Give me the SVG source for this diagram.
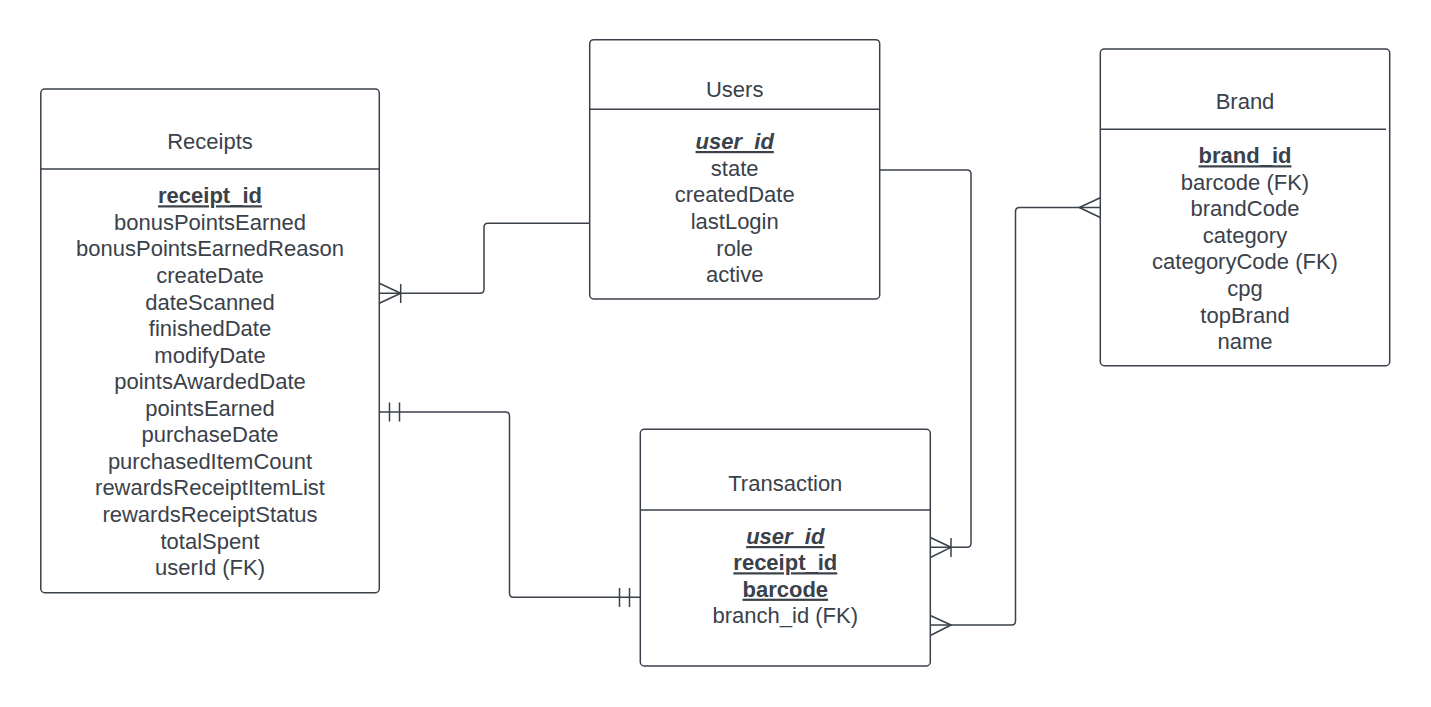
<svg xmlns="http://www.w3.org/2000/svg" width="1431" height="707" viewBox="0 0 1431 707">
<style>
  .box { fill: #ffffff; stroke: #3a414a; stroke-width: 1.5; }
  .sep { stroke: #3a414a; stroke-width: 1.5; }
  .t { font-family: "Liberation Sans", Arial, sans-serif; font-size: 22px; fill: #3a414a; text-anchor: middle; }
  .k { font-weight: bold; text-decoration: underline; }
  .ki { font-weight: bold; font-style: italic; text-decoration: underline; }
  .c { fill: none; stroke: #3a414a; stroke-width: 1.5; stroke-linejoin: round; }
</style>
<rect width="1431" height="707" fill="#ffffff"/>

<g id="connectors">
  <!-- Users -> Receipts (one or many at Receipts) -->
  <path class="c" d="M589.7,223.3 H488 Q484,223.3 484,227.3 V289.3 Q484,293.3 480,293.3 H379.3"/>
  <path class="c" d="M379.3,283.3 L400.7,293.3 L379.3,303.3 M400.7,284 V303"/>
  <!-- Receipts -> Transaction (one and only one both ends) -->
  <path class="c" d="M379.3,412 H505.5 Q509.5,412 509.5,416 V593.3 Q509.5,597.3 513.5,597.3 H640.3"/>
  <path class="c" d="M389.5,402.5 V421.5 M399.5,402.5 V421.5"/>
  <path class="c" d="M619.5,588 V607 M629.5,588 V607"/>
  <!-- Users -> Transaction (one or many at Transaction) -->
  <path class="c" d="M879.7,170 H967 Q971,170 971,174 V543.3 Q971,547.3 967,547.3 H930.3"/>
  <path class="c" d="M930.3,537.5 L951,547.3 L930.3,557.5 M951,538 V557"/>
  <!-- Brand -> Transaction (many both ends) -->
  <path class="c" d="M1100.3,207.5 H1019.5 Q1015.5,207.5 1015.5,211.5 V621 Q1015.5,625 1011.5,625 H930.3"/>
  <path class="c" d="M1100.3,197.7 L1079.3,207.5 L1100.3,217.5"/>
  <path class="c" d="M930.3,615.5 L951,625 L930.3,635.5"/>
</g>

<g id="receipts">
  <rect class="box" x="40.8" y="89" width="338.5" height="503.7" rx="4"/>
  <line class="sep" x1="40.8" y1="169" x2="379.3" y2="169"/>
  <text class="t" x="210" y="149">Receipts</text>
  <text class="t k" x="210" y="203.3">receipt_id</text>
  <text class="t" x="210" y="229.9">bonusPointsEarned</text>
  <text class="t" x="210" y="256.4">bonusPointsEarnedReason</text>
  <text class="t" x="210" y="283">createDate</text>
  <text class="t" x="210" y="309.5">dateScanned</text>
  <text class="t" x="210" y="336.1">finishedDate</text>
  <text class="t" x="210" y="362.6">modifyDate</text>
  <text class="t" x="210" y="389.2">pointsAwardedDate</text>
  <text class="t" x="210" y="415.7">pointsEarned</text>
  <text class="t" x="210" y="442.3">purchaseDate</text>
  <text class="t" x="210" y="468.8">purchasedItemCount</text>
  <text class="t" x="210" y="495.4">rewardsReceiptItemList</text>
  <text class="t" x="210" y="521.9">rewardsReceiptStatus</text>
  <text class="t" x="210" y="548.5">totalSpent</text>
  <text class="t" x="210" y="575">userId (FK)</text>
</g>

<g id="users">
  <rect class="box" x="589.7" y="39.7" width="290" height="259.3" rx="4"/>
  <line class="sep" x1="589.7" y1="109.3" x2="879.7" y2="109.3"/>
  <text class="t" x="734.7" y="96.7">Users</text>
  <text class="t ki" x="734.7" y="149">user_id</text>
  <text class="t" x="734.7" y="175.7">state</text>
  <text class="t" x="734.7" y="202.3">createdDate</text>
  <text class="t" x="734.7" y="229">lastLogin</text>
  <text class="t" x="734.7" y="255.6">role</text>
  <text class="t" x="734.7" y="282.3">active</text>
</g>

<g id="brand">
  <rect class="box" x="1100.3" y="49" width="289.4" height="316.7" rx="4"/>
  <line class="sep" x1="1100.3" y1="129.3" x2="1386" y2="129.3"/>
  <text class="t" x="1245" y="109.3">Brand</text>
  <text class="t k" x="1245" y="163.3">brand_id</text>
  <text class="t" x="1245" y="189.8">barcode (FK)</text>
  <text class="t" x="1245" y="216.4">brandCode</text>
  <text class="t" x="1245" y="242.9">category</text>
  <text class="t" x="1245" y="269.4">categoryCode (FK)</text>
  <text class="t" x="1245" y="295.9">cpg</text>
  <text class="t" x="1245" y="322.5">topBrand</text>
  <text class="t" x="1245" y="349">name</text>
</g>

<g id="transaction">
  <rect class="box" x="640.3" y="429.3" width="290" height="236.7" rx="4"/>
  <line class="sep" x1="640.3" y1="510" x2="930.3" y2="510"/>
  <text class="t" x="785.3" y="490.7">Transaction</text>
  <text class="t ki" x="785.3" y="544">user_id</text>
  <text class="t k" x="785.3" y="570.3">receipt_id</text>
  <text class="t k" x="785.3" y="596.7">barcode</text>
  <text class="t" x="785.3" y="623">branch_id (FK)</text>
</g>
</svg>
